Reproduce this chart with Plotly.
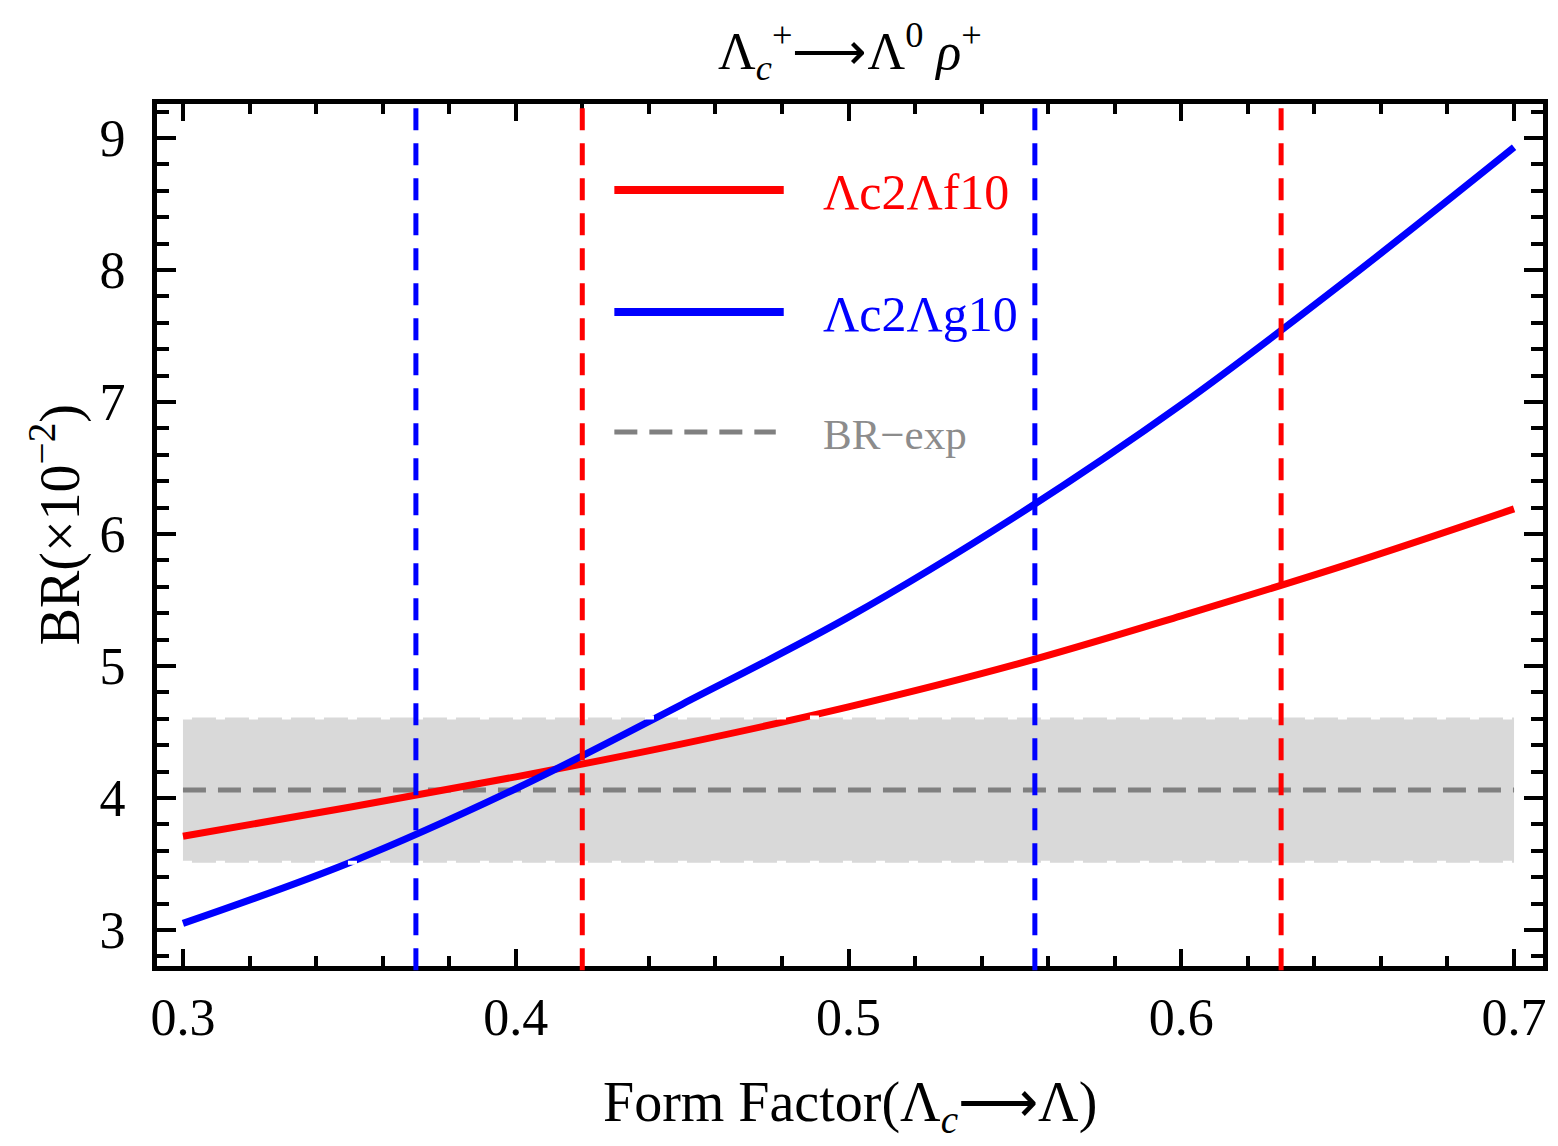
import plotly.graph_objects as go

# ---- data ----
form_factor = [0.30, 0.35, 0.40, 0.45, 0.50, 0.55, 0.60, 0.65, 0.70]
br_f10 = [3.71, 3.93, 4.16, 4.41, 4.69, 5.01, 5.38, 5.77, 6.19]
br_g10 = [3.05, 3.51, 4.07, 4.71, 5.37, 6.13, 6.98, 7.93, 8.93]
br_exp = 4.06
br_exp_low = 3.51
br_exp_high = 4.61
band_x = [0.30, 0.70]
vlines_f10 = [0.42, 0.63]
vlines_g10 = [0.37, 0.556]
x_ticks = [0.3, 0.4, 0.5, 0.6, 0.7]
x_tick_labels = ["0.3", "0.4", "0.5", "0.6", "0.7"]
y_ticks = [3, 4, 5, 6, 7, 8, 9]
y_tick_labels = ["3", "4", "5", "6", "7", "8", "9"]
x_range = [0.2922, 0.7087]
y_range = [2.727, 9.258]

SERIF = "Liberation Serif, Times New Roman, serif"
RED = "#ff0000"
BLUE = "#0000ff"
GRAY = "#808080"

# plot-area geometry (pixels) used for paper-coordinate placement
L, R, T, B = 157, 1548, 104, 966
W, H = R - L, B - T


def px(xp):
    return (xp - L) / W


def py(yp):
    return (B - yp) / H


fig = go.Figure()

# experimental band
fig.add_trace(go.Scatter(
    x=[band_x[0], band_x[1], band_x[1], band_x[0], band_x[0]],
    y=[br_exp_low, br_exp_low, br_exp_high, br_exp_high, br_exp_low],
    fill="toself", fillcolor="#d9d9d9", line=dict(width=0),
    mode="lines", hoverinfo="skip", showlegend=False))

# experimental central value
fig.add_trace(go.Scatter(
    x=band_x, y=[br_exp, br_exp], mode="lines",
    line=dict(color=GRAY, width=5, dash="23px,12px"),
    showlegend=False, name="BR-exp"))

# curves
fig.add_trace(go.Scatter(
    x=form_factor, y=br_f10, mode="lines", line_shape="spline",
    line=dict(color=RED, width=7), name="Λc2Λf10", showlegend=False))
fig.add_trace(go.Scatter(
    x=form_factor, y=br_g10, mode="lines", line_shape="spline",
    line=dict(color=BLUE, width=7), name="Λc2Λg10", showlegend=False))

# white dashed band edges (drawn over the curves)
for yv in (br_exp_low, br_exp_high):
    fig.add_trace(go.Scatter(
        x=band_x, y=[yv, yv], mode="lines",
        line=dict(color="white", width=4, dash="9px,24px"),
        hoverinfo="skip", showlegend=False))

# vertical dashed lines
for xv in vlines_g10:
    fig.add_shape(type="line", xref="x", yref="paper", x0=xv, x1=xv,
                  y0=-0.005, y1=1, layer="above",
                  line=dict(color=BLUE, width=5, dash="22px,13px"))
for xv in vlines_f10:
    fig.add_shape(type="line", xref="x", yref="paper", x0=xv, x1=xv,
                  y0=-0.005, y1=1, layer="above",
                  line=dict(color=RED, width=5, dash="22px,13px"))

# manual legend
leg = [
    (190, RED, "solid", 8, 786, "Λc2Λf10", 50, RED),
    (312, BLUE, "solid", 8, 786, "Λc2Λg10", 50, BLUE),
    (432, GRAY, "23px,12px", 5, 778, "BR−exp", 43, "#8c8c8c"),
]
for yp, col, dash, w, xe, txt, fs, tcol in leg:
    fig.add_shape(type="line", xref="paper", yref="paper",
                  x0=px(616), x1=px(xe), y0=py(yp), y1=py(yp),
                  line=dict(color=col, width=w, dash=dash))
    fig.add_annotation(xref="paper", yref="paper", x=px(823), y=py(yp + 2),
                       xanchor="left", yanchor="middle", showarrow=False,
                       text=txt, font=dict(family=SERIF, size=fs, color=tcol))

# titles
fig.add_annotation(xref="paper", yref="paper", x=px(852), y=py(52),
                   xanchor="center", yanchor="middle", showarrow=False,
                   text="Λ<sub><i>c</i></sub><sup>+</sup>⟶Λ<sup>0</sup> <i>ρ</i><sup>+</sup>",
                   font=dict(family=SERIF, size=52, color="black"))
fig.add_annotation(xref="paper", yref="paper", x=px(852), y=py(1106),
                   xanchor="center", yanchor="middle", showarrow=False,
                   text="Form Factor(Λ<sub><i>c</i></sub>⟶Λ)",
                   font=dict(family=SERIF, size=56, color="black"))
fig.add_annotation(xref="paper", yref="paper", x=px(56), y=py(525),
                   xanchor="center", yanchor="middle", showarrow=False,
                   textangle=-90,
                   text="BR(×10<sup>−2</sup>)",
                   font=dict(family=SERIF, size=56, color="black"))

axis_common = dict(
    showgrid=False, zeroline=False, showline=True, linecolor="black",
    linewidth=5, mirror="ticks", ticks="inside", tickcolor="black",
    tickwidth=4, tickfont=dict(family=SERIF, size=52, color="black"),
)
fig.update_xaxes(range=x_range, tickvals=x_ticks, ticktext=x_tick_labels,
                 ticklen=17, ticklabelstandoff=2,
                 minor=dict(dtick=0.02, tick0=0.3, ticks="inside", ticklen=10,
                            tickwidth=4, tickcolor="black", showgrid=False),
                 **axis_common)
fig.update_yaxes(range=y_range, tickvals=y_ticks, ticktext=y_tick_labels,
                 ticklen=19, ticklabelstandoff=16,
                 minor=dict(dtick=0.2, tick0=3, ticks="inside", ticklen=12,
                            tickwidth=4, tickcolor="black", showgrid=False),
                 **axis_common)

fig.update_layout(
    width=1558, height=1146,
    margin=dict(l=L, r=1558 - R, t=T, b=1146 - B),
    paper_bgcolor="white", plot_bgcolor="white",
    showlegend=False,
    font=dict(family=SERIF, color="black"),
)

fig.write_html("out.html")
